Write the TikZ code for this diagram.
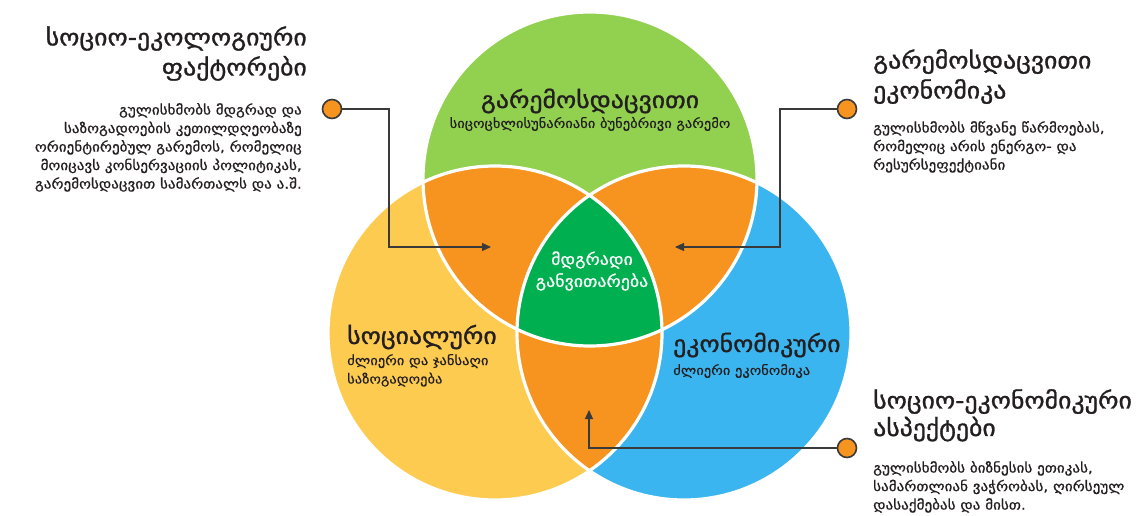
\documentclass[tikz,border=0pt]{standalone}
\usepackage{fontspec}
\setmainfont{DejaVu Sans}
\newfontfamily\ka[FakeStretch=1.12,FakeBold=1.2]{DejaVu Sans}
\newfontfamily\kab[FakeStretch=1.12,FakeBold=0.8]{DejaVu Sans}
\newfontfamily\kas[FakeStretch=1.12,FakeBold=0.3]{DejaVu Sans}
\usetikzlibrary{arrows.meta}
\definecolor{cgreen}{HTML}{92D050}
\definecolor{cyellow}{HTML}{FDCB50}
\definecolor{cblue}{HTML}{3BB5EF}
\definecolor{corange}{HTML}{F7941F}
\definecolor{cdark}{HTML}{00AF50}
\definecolor{ctext}{HTML}{231F20}
\definecolor{cline}{HTML}{3A3A3A}
\begin{document}
\begin{tikzpicture}[x=1pt,y=-1pt,
  sidetitle/.style={inner sep=0pt,text=ctext,font=\ka\fontsize{23}{30}\selectfont},
  sidebody/.style={inner sep=0pt,text=ctext,font=\kab\fontsize{13.5}{18.5}\selectfont},
  ctitle/.style={inner sep=0pt,text=ctext,font=\ka\fontsize{23}{26}\selectfont},
  csub/.style={inner sep=0pt,text=ctext,font=\kas\fontsize{13}{18.5}\selectfont},
  dot/.style={circle,draw=cline,line width=1.6pt,fill=corange,minimum size=19pt,inner sep=0pt},
  conn/.style={draw=cline,line width=1.1pt,-{Triangle[length=9pt,width=8pt]}}]
\useasboundingbox (0,0) rectangle (1138,516);
\def\R{167}
\coordinate (G) at (590,179);
\coordinate (Y) at (495,333);
\coordinate (B) at (684,333);
% circles
\fill[cgreen] (G) circle (\R);
\fill[cyellow] (Y) circle (\R);
\fill[cblue] (B) circle (\R);
\begin{scope}
  \clip (G) circle (\R);
  \fill[corange] (Y) circle (\R);
  \fill[corange] (B) circle (\R);
\end{scope}
\begin{scope}
  \clip (Y) circle (\R);
  \fill[corange] (B) circle (\R);
\end{scope}
\begin{scope}
  \clip (G) circle (\R);
  \clip (Y) circle (\R);
  \fill[cdark] (B) circle (\R);
\end{scope}
\foreach \c in {G,Y,B} \draw[white,line width=3.2pt] (\c) circle (\R);
% circle texts
\node[ctitle] (gt) at (590,101) {გარემოსდაცვითი};
\node[csub] (gs) at (590,124) {სიცოცხლისუნარიანი ბუნებრივი გარემო};
\node[ctitle,text=white,align=center,font=\kab\fontsize{16}{22}\selectfont] (ct) at (592,271) {მდგრადი\\განვითარება};
\node[ctitle,anchor=west] (yt) at (347,337) {სოციალური};
\node[csub,anchor=north west,align=left] (ys) at (347,354) {ძლიერი და ჯანსაღი\\საზოგადოება};
\node[ctitle,anchor=west] (bt) at (673,345) {ეკონომიკური};
\node[csub,anchor=west] (bs) at (673,371) {ძლიერი ეკონომიკა};
% side texts
\node[sidetitle,anchor=north east,align=right] (lt) at (307,26) {სოციო-ეკოლოგიური\\ფაქტორები};
\node[sidebody,anchor=north east,align=right] (lb) at (302,103) {გულისხმობს მდგრად და\\საზოგადოების კეთილდღეობაზე\\ორიენტირებულ გარემოს, რომელიც\\მოიცავს კონსერვაციის პოლიტიკას,\\გარემოსდაცვით სამართალს და ა.შ.};
\node[sidetitle,anchor=north west,align=left] (rt) at (873,49) {გარემოსდაცვითი\\ეკონომიკა};
\node[sidebody,anchor=north west,align=left] (rb) at (873,121) {გულისხმობს მწვანე წარმოებას,\\რომელიც არის ენერგო- და\\რესურსეფექტიანი};
\node[sidetitle,anchor=north west,align=left,font=\ka\fontsize{23}{27.5}\selectfont] (st) at (873,389) {სოციო-ეკონომიკური\\ასპექტები};
\node[sidebody,anchor=north west,align=left] (sb) at (873,461) {გულისხმობს ბიზნესის ეთიკას,\\სამართლიან ვაჭრობას, ღირსეულ\\დასაქმებას და მისთ.};
% dots and connectors
\node[dot] (d1) at (332,109) {};
\node[dot] (d2) at (847,109) {};
\node[dot] (d3) at (847,448) {};
\coordinate (e1) at (491,247);
\coordinate (e2) at (675,247);
\coordinate (e3) at (589,410);
\draw[conn] (d1.east) -- (389,109) |- (e1);
\draw[conn] (d2.west) -- (780,109) |- (e2);
\draw[conn] (d3.west) -| (e3);
\end{tikzpicture}
\end{document}
